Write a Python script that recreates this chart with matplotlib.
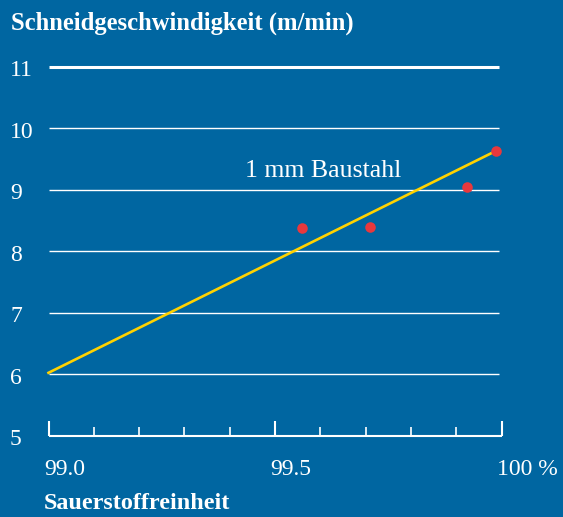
import matplotlib
matplotlib.use("Agg")
import matplotlib.pyplot as plt
import matplotlib.transforms as mtransforms

# ---- data ----
y_ticks = [5, 6, 7, 8, 9, 10, 11]
y_tick_labels = ["5", "6", "7", "8", "9", "10", "11"]
grid_values = [6, 7, 8, 9, 10, 11]
x_major = [99.0, 99.5, 100.0]
x_major_labels = ["99.0", "99.5", "100 %"]
x_minor = [99.1, 99.2, 99.3, 99.4, 99.6, 99.7, 99.8, 99.9]
point_x = [99.559, 99.710, 99.924, 99.988]
point_y = [8.38, 8.40, 9.05, 9.63]
trend_x = [99.0, 99.985]
trend_y = [6.02, 9.62]
title = "Schneidgeschwindigkeit (m/min)"
xlabel = "Sauerstoffreinheit"
series_label = "1 mm Baustahl"

BG = "#0066A1"
W, H = 563, 517
fig = plt.figure(figsize=(W / 100, H / 100), dpi=100, facecolor=BG)
plt.rcParams["font.family"] = ["Liberation Serif", "DejaVu Serif"]

ax = fig.add_axes([48.5 / W, (H - 435.5) / H, 453 / W, (435.5 - 66.7) / H])
ax.set_facecolor(BG)
ax.set_xlim(99.0, 100.0)
ax.set_ylim(5, 11)
for s in ["top", "right", "left"]:
    ax.spines[s].set_visible(False)
ax.spines["bottom"].set_color("white")
ax.spines["bottom"].set_linewidth(1.5)
ax.spines["bottom"].set_capstyle("butt")
ax.set_xticks(x_major)
ax.set_xticks(x_minor, minor=True)
ax.tick_params(axis="x", which="major", direction="in", length=10.8, width=1.5,
               color="white", labelbottom=False)
ax.tick_params(axis="x", which="minor", direction="in", length=6.2, width=1.2,
               color="white", labelbottom=False)
ax.set_yticks([])

# gridlines
for v in grid_values:
    lw = 2.2 if v == 11 else 1.0
    ax.hlines(v, 99.0, 99.995, color="white", lw=lw, clip_on=False, zorder=1)

# trend line and points
ax.plot(trend_x, trend_y, color="#FFD200", lw=1.9, zorder=3, clip_on=False)
ax.plot(point_x, point_y, "o", color="#E8383D", ms=7.6, mec="none", zorder=4,
        clip_on=False)

ax.text(99.434, 9.21, series_label, color="white", fontsize=18.6,
        ha="left", va="baseline")

# y tick labels
tr_y = mtransforms.blended_transform_factory(fig.transFigure, ax.transData)
tr_y = mtransforms.offset_copy(tr_y, fig=fig, x=0, y=-9.5, units="dots")
for v, lab in zip(y_ticks, y_tick_labels):
    fig.text(10 / W, v, lab, transform=tr_y, color="white", fontsize=17,
             ha="left", va="baseline")

# x tick labels
tr_x = mtransforms.blended_transform_factory(ax.transData, fig.transFigure)
tr_x = mtransforms.offset_copy(tr_x, fig=fig, x=-4.5, y=0, units="dots")
for v, lab in zip(x_major, x_major_labels):
    fig.text(v, (H - 475) / H, lab, transform=tr_x, color="white", fontsize=17,
             ha="left", va="baseline")

fig.text(11 / W, (H - 30) / H, title, color="white", fontsize=17.7,
         fontweight="bold", ha="left", va="baseline")
fig.text(44 / W, (H - 509.3) / H, xlabel, color="white", fontsize=17.4,
         fontweight="bold", ha="left", va="baseline")

fig.savefig("out.png", dpi=100, facecolor=BG)
